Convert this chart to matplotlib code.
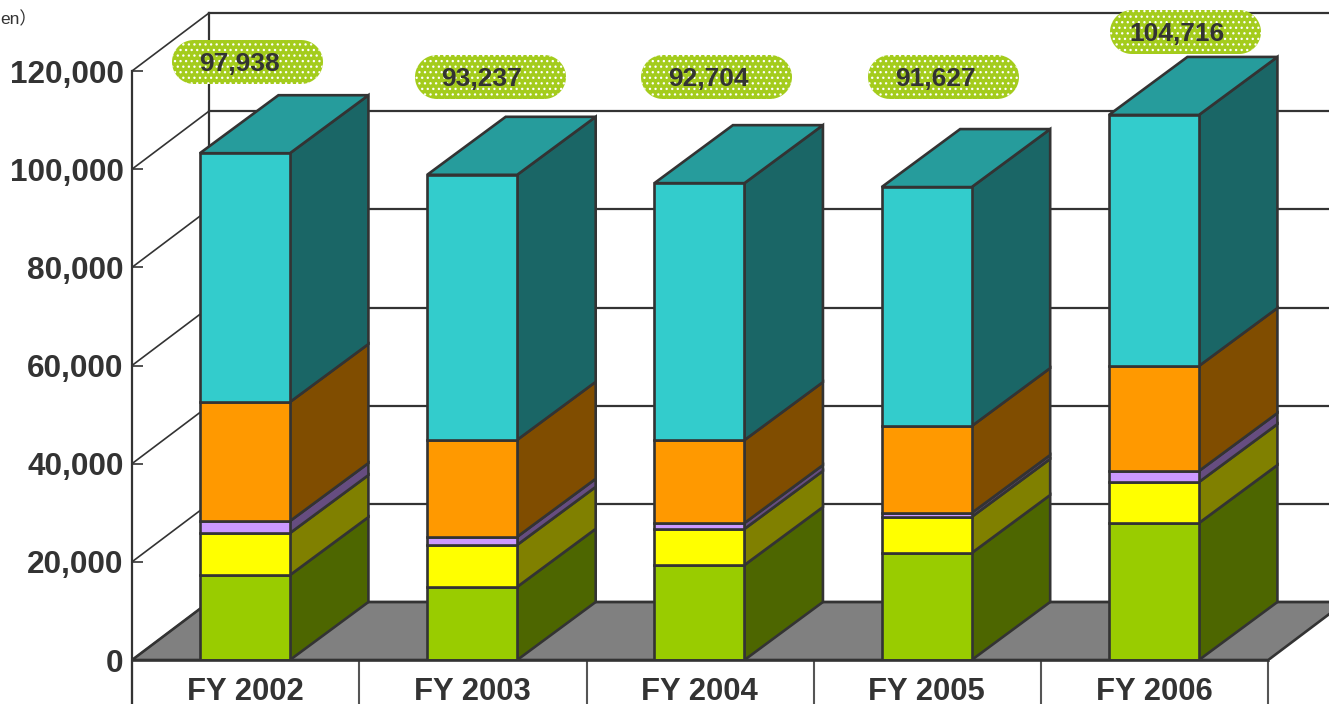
# -*- coding: utf-8 -*-

#---------------------------------------------------------------------
# Libraries
#---------------------------------------------------------------------
import numpy as np
import matplotlib as mpl
mpl.use('Agg')
import matplotlib.pyplot as plt
from matplotlib.patches import Polygon
from matplotlib.transforms import Affine2D

#---------------------------------------------------------------------
# Data
#---------------------------------------------------------------------
years = ['FY 2002', 'FY 2003', 'FY 2004', 'FY 2005', 'FY 2006']
totals = ['97,938', '93,237', '92,704', '91,627', '104,716']
green = [17300, 14900, 19350, 21800, 27900]
yellow = [8550, 8550, 7350, 7350, 8350]
purple = [2450, 1650, 1200, 800, 2250]
orange = [24250, 19750, 16900, 17700, 21400]
teal = [50700, 54000, 52350, 48700, 51150]
yticks = [0, 20000, 40000, 60000, 80000, 100000, 120000]

#---------------------------------------------------------------------
# Style
#---------------------------------------------------------------------
W, H = 1329, 704
INK = '#333333'
front_cols = ['#99cc00', '#ffff00', '#cc99ff', '#ff9900', '#33cccc']
side_cols = ['#4d6600', '#808000', '#664d80', '#804d00', '#1a6666']
top_col = '#269c9c'

plt.rcParams['font.family'] = ['Liberation Sans', 'Noto Sans CJK JP']
plt.rcParams['hatch.linewidth'] = 0.9

# pixel sizes of the plot
CAT_PX = 227.25
Y_PX = 589.0 / 120000
LEFT_PX, FLOOR_PX = 132, 660
LW = 1.9

fig = plt.figure(figsize=(W / 100, H / 100), dpi=100)
ax = fig.add_axes([LEFT_PX / W, (H - FLOOR_PX) / H, 1 - LEFT_PX / W, FLOOR_PX / H])
ax.set_xlim(0, (W - LEFT_PX) / CAT_PX)
ax.set_ylim(0, FLOOR_PX / Y_PX)
ax.patch.set_visible(False)

# depth of the fake 3D
frame_dx = 77 / CAT_PX
bar_dx = 78.5 / CAT_PX
depth_dy = 58 / Y_PX
bar_w = 90 / CAT_PX
x = np.arange(len(years)) + 0.5 - 0.7 / CAT_PX
xmax = len(years)

#---------------------------------------------------------------------
# Floor and back walls
#---------------------------------------------------------------------
ax.add_patch(Polygon([(0, 0), (frame_dx, depth_dy), (xmax + frame_dx, depth_dy), (xmax, 0)],
	closed=True, facecolor='#808080', edgecolor=INK, linewidth=LW, zorder=1))
for v in yticks:
	ax.plot([frame_dx, xmax + frame_dx], [v + depth_dy, v + depth_dy], color=INK, lw=1.6, zorder=1.1)
	ax.plot([0, frame_dx], [v, v + depth_dy], color=INK, lw=1.2, zorder=1.1)
ax.plot([frame_dx, frame_dx], [depth_dy, yticks[-1] + depth_dy], color=INK, lw=1.6, zorder=1.1)

#---------------------------------------------------------------------
# Stacked bars
#---------------------------------------------------------------------
series = np.array([green, yellow, purple, orange, teal], dtype=float)
bottoms = np.vstack([np.zeros(len(years)), np.cumsum(series, axis=0)[:-1]])

for k in range(len(series)):
	ax.bar(x, series[k], bar_w, bottom=bottoms[k], color=front_cols[k],
		edgecolor=INK, linewidth=LW, zorder=3)
	for i in range(len(years)):
		r = x[i] + bar_w / 2
		b = bottoms[k][i]
		t = b + series[k][i]
		ax.add_patch(Polygon([(r, b), (r + bar_dx, b + depth_dy), (r + bar_dx, t + depth_dy), (r, t)],
			closed=True, facecolor=side_cols[k], edgecolor=INK, linewidth=LW, zorder=2))

tops = bottoms[-1] + series[-1]
for i in range(len(years)):
	l = x[i] - bar_w / 2
	r = x[i] + bar_w / 2
	ax.add_patch(Polygon([(l, tops[i]), (l + bar_dx, tops[i] + depth_dy), (r + bar_dx, tops[i] + depth_dy), (r, tops[i])],
		closed=True, facecolor=top_col, edgecolor=INK, linewidth=LW, zorder=2.5))

#---------------------------------------------------------------------
# Axes
#---------------------------------------------------------------------
for name in ['top', 'right', 'left', 'bottom']:
	ax.spines[name].set_visible(False)

ax.set_yticks(yticks)
ax.set_yticklabels(['{:,}'.format(v) for v in yticks], fontsize=22.7, fontweight='bold', color=INK)
ax.tick_params(axis='y', direction='in', length=8, width=1.2, color=INK, pad=6)

ax.set_xticks(x)
ax.set_xticklabels(years, fontsize=22.3, fontweight='bold', color=INK)
ax.set_xticks(np.arange(len(years) + 1), minor=True)
ax.tick_params(axis='x', which='major', length=0, pad=12)
ax.tick_params(axis='x', which='minor', direction='out', length=32, width=1.5, color='#555555')

# front left edge runs down past the floor, front floor edge on top of the bars' feet
ax.plot([0, 0], [-44 / Y_PX, yticks[-1]], color=INK, lw=1.6, clip_on=False, zorder=4)
ax.plot([0, xmax], [0, 0], color=INK, lw=LW, clip_on=False, zorder=4)

#---------------------------------------------------------------------
# Total labels (pills), placed in pixels from the top left corner
#---------------------------------------------------------------------
px = Affine2D().scale(1, -1).translate(0, H)
pill_left = [172, 415, 641, 868, 1110]
pill_top = [40, 55, 55, 55, 10]
pill_w, pill_h = 151, 44

def pill_outline(left, top):
	rad = pill_h / 2
	ang = np.linspace(-np.pi / 2, np.pi / 2, 40)
	xs = np.r_[left + pill_w - rad + rad * np.cos(ang), left + rad - rad * np.cos(ang)]
	ys = np.r_[top + rad + rad * np.sin(ang), top + rad - rad * np.sin(ang)]
	return np.column_stack([xs, ys])

for i in range(len(years)):
	fig.add_artist(Polygon(pill_outline(pill_left[i], pill_top[i]), closed=True, transform=px,
		facecolor='#a4cc1c', edgecolor='white', hatch='...', linewidth=0, zorder=6))
	fig.text(pill_left[i] + 67, pill_top[i] + 24, totals[i], transform=px,
		ha='center', va='center', fontsize=19, fontweight='bold', color=INK, zorder=7)

# what is left of the unit label at the picture's edge
fig.text(0, 19, 'en）', transform=px, ha='left', va='center', fontsize=12.5, color=INK)

fig.savefig('out.png', dpi=100)
